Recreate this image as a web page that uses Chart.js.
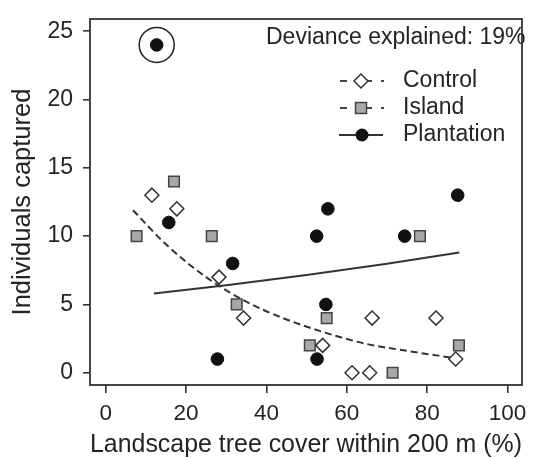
<!DOCTYPE html>
<html>
<head>
<meta charset="utf-8">
<script src="https://cdn.jsdelivr.net/npm/chart.js@4"></script>
<style>
  html, body { margin: 0; padding: 0; background: #fff; }
  canvas { display: block; }
</style>
</head>
<body>
<canvas id="c" width="541" height="458"></canvas>
<script>
// values
const controlX = [11.5, 17.7, 28.2, 34.3, 54.0, 61.3, 65.7, 66.3, 82.2, 87.1];
const controlY = [13, 12, 7, 4, 2, 0, 0, 4, 4, 1];
const islandX = [7.7, 17.0, 26.4, 32.6, 50.8, 55.0, 71.4, 78.2, 87.9];
const islandY = [10, 14, 10, 5, 2, 4, 0, 10, 2];
const plantX = [12.7, 15.7, 27.8, 31.6, 52.5, 52.6, 54.8, 55.3, 74.4, 87.6];
const plantY = [24, 11, 1, 8, 10, 1, 5, 12, 10, 13];
const circledX = [12.7];
const circledY = [24];
// fitted curves, read at a few points
const dashFitX = [6.8, 15, 25, 35, 45, 55, 65, 75, 86.1];
const dashFitY = [11.9, 9.4, 7.0, 5.2, 3.9, 2.9, 2.1, 1.6, 1.1];
const solidFitX = [12, 30, 50, 70, 88];
const solidFitY = [5.8, 6.4, 7.15, 7.97, 8.8];
const xTicks = [0, 20, 40, 60, 80, 100];
const yTicks = [0, 5, 10, 15, 20, 25];

const FONT = '"Liberation Sans", Arial, Helvetica, sans-serif';
const INK = '#242424';

const pts = (xs, ys) => xs.map((x, i) => ({ x: x, y: ys[i] }));

function drawDiamond(ctx, x, y, r) {
  ctx.beginPath();
  ctx.moveTo(x, y - r); ctx.lineTo(x + r, y); ctx.lineTo(x, y + r); ctx.lineTo(x - r, y);
  ctx.closePath();
}

function seg(ctx, x0, x1, y) {
  ctx.beginPath();
  ctx.moveTo(x0, y);
  ctx.lineTo(x1, y);
  ctx.stroke();
}

const overlay = {
  id: 'overlay',
  afterDraw(chart) {
    const ctx = chart.ctx;
    const a = chart.chartArea;
    ctx.save();
    ctx.strokeStyle = '#333';
    ctx.lineWidth = 1.8;
    ctx.strokeRect(a.left, a.top, a.right - a.left, a.bottom - a.top);

    ctx.fillStyle = INK;
    ctx.font = '23px ' + FONT;
    ctx.textBaseline = 'middle';
    ctx.textAlign = 'left';
    ctx.fillText('Deviance explained: 19%', 266, 38);

    const rows = [
      { label: 'Control', y: 81, mark: 'diamond' },
      { label: 'Island', y: 108, mark: 'square' },
      { label: 'Plantation', y: 135, mark: 'circle' }
    ];
    const mx = 361;
    rows.forEach((r) => {
      ctx.strokeStyle = '#333';
      ctx.lineWidth = 1.8;
      if (r.mark === 'circle') {
        seg(ctx, 339, 383, r.y);
      } else {
        seg(ctx, 340, 347, r.y);
        seg(ctx, 366, 372, r.y);
        seg(ctx, 381, 384, r.y);
      }
      if (r.mark === 'diamond') {
        ctx.fillStyle = '#fff';
        drawDiamond(ctx, mx, r.y, 7);
        ctx.fill();
        ctx.lineWidth = 1.5;
        ctx.stroke();
      } else if (r.mark === 'square') {
        ctx.fillStyle = '#a8a8a8';
        ctx.fillRect(mx - 5.5, r.y - 5.5, 11, 11);
        ctx.lineWidth = 1.5;
        ctx.strokeStyle = '#444';
        ctx.strokeRect(mx - 5.5, r.y - 5.5, 11, 11);
      } else {
        ctx.fillStyle = '#111';
        ctx.beginPath();
        ctx.arc(mx + 1, r.y, 6.5, 0, Math.PI * 2);
        ctx.fill();
      }
      ctx.fillStyle = INK;
      ctx.fillText(r.label, 403, r.y);
    });
    ctx.restore();
  }
};

new Chart(document.getElementById('c'), {
  type: 'scatter',
  data: {
    datasets: [
      { label: 'Plantation', data: pts(plantX, plantY), pointStyle: 'circle', pointRadius: 6.3,
        backgroundColor: '#111', borderColor: '#111', borderWidth: 1 },
      { label: 'Control', data: pts(controlX, controlY), pointStyle: 'rectRot', pointRadius: 7,
        backgroundColor: '#fff', borderColor: '#333', borderWidth: 1.5 },
      { label: 'Island', data: pts(islandX, islandY), pointStyle: 'rect', pointRadius: 7.5,
        backgroundColor: '#a8a8a8', borderColor: '#444', borderWidth: 1.5 },
      { label: 'outlier', data: pts(circledX, circledY), pointStyle: 'circle', pointRadius: 17.5,
        backgroundColor: 'rgba(0,0,0,0)', borderColor: '#222', borderWidth: 1.5 },
      { label: 'fit control/island', data: pts(dashFitX, dashFitY), showLine: true, pointRadius: 0,
        borderColor: '#333', borderWidth: 2, borderDash: [7, 4], cubicInterpolationMode: 'monotone' },
      { label: 'fit plantation', data: pts(solidFitX, solidFitY), showLine: true, pointRadius: 0,
        borderColor: '#333', borderWidth: 2, cubicInterpolationMode: 'monotone' }
    ]
  },
  options: {
    responsive: false,
    animation: false,
    layout: { padding: { top: 10, right: 7, left: 0, bottom: 0 } },
    plugins: { legend: { display: false }, tooltip: { enabled: false } },
    scales: {
      x: {
        type: 'linear', min: -3.9, max: 103.6,
        afterBuildTicks: (s) => { s.ticks = xTicks.map((v) => ({ value: v })); },
        afterFit: (s) => { s.height = 73; s.paddingLeft = 0; s.paddingRight = 0; },
        grid: { drawOnChartArea: false, drawTicks: true, tickLength: 8, color: '#333', lineWidth: 1.6 },
        border: { display: false },
        ticks: { font: { size: 22.5, family: FONT }, color: INK, padding: 7, maxRotation: 0 },
        title: { display: true, text: 'Landscape tree cover within 200 m (%)', color: INK,
          font: { size: 26, family: FONT, lineHeight: 1 }, padding: { top: 0, bottom: 0 } }
      },
      y: {
        type: 'linear', min: -0.9, max: 25.9,
        afterBuildTicks: (s) => { s.ticks = yTicks.map((v) => ({ value: v })); },
        afterFit: (s) => { s.width = 90; s.paddingTop = 0; s.paddingBottom = 0; },
        grid: { drawOnChartArea: false, drawTicks: true, tickLength: 7, color: '#333', lineWidth: 1.6 },
        border: { display: false },
        ticks: { font: { size: 23, family: FONT }, color: INK, padding: 10 },
        title: { display: true, text: 'Individuals captured', color: INK,
          font: { size: 25.5, family: FONT, lineHeight: 1 }, padding: { top: 10, bottom: 0 } }
      }
    }
  },
  plugins: [overlay]
});
</script>
</body>
</html>
